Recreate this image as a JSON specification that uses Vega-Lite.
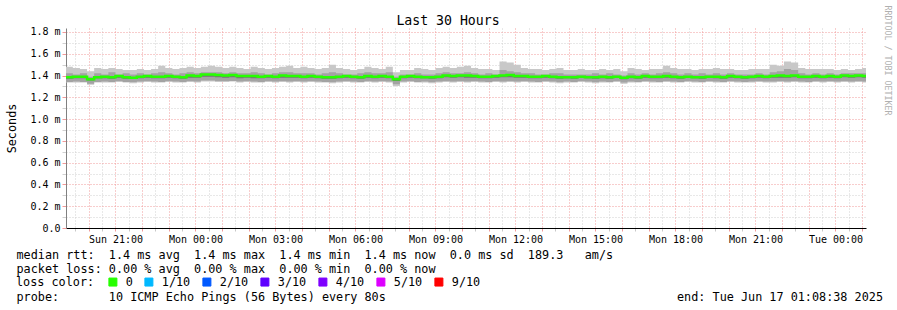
{
  "$schema": "https://vega.github.io/schema/vega-lite/v6.json",
  "width": 800,
  "height": 200,
  "autosize": "none",
  "padding": {"left": 66, "top": 28, "right": 31, "bottom": 82},
  "background": "#ffffff",
  "config": {"view": {"stroke": null}, "font": "DejaVu Sans Mono"},
  "data": {"values": [
    {"t":"2025-06-15T19:08:00Z","lo":1.335,"hi":1.48,"q1":1.34,"q3":1.42,"d":1.37,"med":1.385,"loss":"0"},
    {"t":"2025-06-15T19:24:00Z","lo":1.335,"hi":1.47,"q1":1.345,"q3":1.41,"d":1.375,"med":1.39,"loss":"0"},
    {"t":"2025-06-15T19:40:00Z","lo":1.335,"hi":1.46,"q1":1.34,"q3":1.42,"d":1.375,"med":1.39,"loss":"0"},
    {"t":"2025-06-15T19:56:00Z","lo":1.315,"hi":1.44,"q1":1.325,"q3":1.39,"d":1.355,"med":1.365,"loss":"0"},
    {"t":"2025-06-15T20:12:00Z","lo":1.335,"hi":1.47,"q1":1.34,"q3":1.42,"d":1.375,"med":1.385,"loss":"0"},
    {"t":"2025-06-15T20:28:00Z","lo":1.335,"hi":1.46,"q1":1.345,"q3":1.41,"d":1.375,"med":1.39,"loss":"0"},
    {"t":"2025-06-15T20:44:00Z","lo":1.335,"hi":1.47,"q1":1.34,"q3":1.43,"d":1.37,"med":1.385,"loss":"0"},
    {"t":"2025-06-15T21:00:00Z","lo":1.34,"hi":1.46,"q1":1.35,"q3":1.41,"d":1.38,"med":1.395,"loss":"0"},
    {"t":"2025-06-15T21:16:00Z","lo":1.335,"hi":1.45,"q1":1.34,"q3":1.42,"d":1.37,"med":1.385,"loss":"0"},
    {"t":"2025-06-15T21:32:00Z","lo":1.33,"hi":1.45,"q1":1.34,"q3":1.41,"d":1.37,"med":1.38,"loss":"0"},
    {"t":"2025-06-15T21:48:00Z","lo":1.335,"hi":1.46,"q1":1.345,"q3":1.42,"d":1.375,"med":1.39,"loss":"0"},
    {"t":"2025-06-15T22:04:00Z","lo":1.34,"hi":1.45,"q1":1.35,"q3":1.41,"d":1.38,"med":1.395,"loss":"0"},
    {"t":"2025-06-15T22:20:00Z","lo":1.335,"hi":1.46,"q1":1.345,"q3":1.42,"d":1.375,"med":1.39,"loss":"0"},
    {"t":"2025-06-15T22:36:00Z","lo":1.335,"hi":1.49,"q1":1.34,"q3":1.43,"d":1.375,"med":1.39,"loss":"0"},
    {"t":"2025-06-15T22:52:00Z","lo":1.34,"hi":1.47,"q1":1.35,"q3":1.42,"d":1.38,"med":1.395,"loss":"0"},
    {"t":"2025-06-15T23:08:00Z","lo":1.335,"hi":1.46,"q1":1.345,"q3":1.41,"d":1.375,"med":1.39,"loss":"0"},
    {"t":"2025-06-15T23:24:00Z","lo":1.335,"hi":1.47,"q1":1.34,"q3":1.42,"d":1.37,"med":1.385,"loss":"0"},
    {"t":"2025-06-15T23:40:00Z","lo":1.34,"hi":1.48,"q1":1.35,"q3":1.43,"d":1.38,"med":1.4,"loss":"0"},
    {"t":"2025-06-15T23:56:00Z","lo":1.335,"hi":1.47,"q1":1.345,"q3":1.42,"d":1.38,"med":1.395,"loss":"0"},
    {"t":"2025-06-16T00:12:00Z","lo":1.345,"hi":1.48,"q1":1.355,"q3":1.43,"d":1.39,"med":1.41,"loss":"0"},
    {"t":"2025-06-16T00:28:00Z","lo":1.345,"hi":1.49,"q1":1.355,"q3":1.43,"d":1.39,"med":1.41,"loss":"0"},
    {"t":"2025-06-16T00:44:00Z","lo":1.34,"hi":1.48,"q1":1.35,"q3":1.43,"d":1.385,"med":1.405,"loss":"0"},
    {"t":"2025-06-16T01:00:00Z","lo":1.34,"hi":1.47,"q1":1.35,"q3":1.42,"d":1.38,"med":1.4,"loss":"0"},
    {"t":"2025-06-16T01:16:00Z","lo":1.345,"hi":1.48,"q1":1.35,"q3":1.43,"d":1.385,"med":1.405,"loss":"0"},
    {"t":"2025-06-16T01:32:00Z","lo":1.335,"hi":1.47,"q1":1.345,"q3":1.42,"d":1.375,"med":1.395,"loss":"0"},
    {"t":"2025-06-16T01:48:00Z","lo":1.34,"hi":1.46,"q1":1.35,"q3":1.42,"d":1.38,"med":1.395,"loss":"0"},
    {"t":"2025-06-16T02:04:00Z","lo":1.335,"hi":1.48,"q1":1.345,"q3":1.43,"d":1.375,"med":1.395,"loss":"0"},
    {"t":"2025-06-16T02:20:00Z","lo":1.335,"hi":1.47,"q1":1.34,"q3":1.42,"d":1.375,"med":1.39,"loss":"0"},
    {"t":"2025-06-16T02:36:00Z","lo":1.34,"hi":1.46,"q1":1.35,"q3":1.41,"d":1.38,"med":1.395,"loss":"0"},
    {"t":"2025-06-16T02:52:00Z","lo":1.335,"hi":1.47,"q1":1.345,"q3":1.42,"d":1.375,"med":1.39,"loss":"0"},
    {"t":"2025-06-16T03:08:00Z","lo":1.34,"hi":1.48,"q1":1.35,"q3":1.43,"d":1.38,"med":1.4,"loss":"0"},
    {"t":"2025-06-16T03:24:00Z","lo":1.335,"hi":1.49,"q1":1.345,"q3":1.43,"d":1.38,"med":1.395,"loss":"0"},
    {"t":"2025-06-16T03:40:00Z","lo":1.34,"hi":1.47,"q1":1.35,"q3":1.42,"d":1.38,"med":1.395,"loss":"0"},
    {"t":"2025-06-16T03:56:00Z","lo":1.335,"hi":1.48,"q1":1.345,"q3":1.42,"d":1.375,"med":1.39,"loss":"0"},
    {"t":"2025-06-16T04:12:00Z","lo":1.34,"hi":1.47,"q1":1.35,"q3":1.42,"d":1.38,"med":1.395,"loss":"0"},
    {"t":"2025-06-16T04:28:00Z","lo":1.335,"hi":1.46,"q1":1.345,"q3":1.41,"d":1.375,"med":1.39,"loss":"0"},
    {"t":"2025-06-16T04:44:00Z","lo":1.335,"hi":1.47,"q1":1.34,"q3":1.42,"d":1.37,"med":1.385,"loss":"0"},
    {"t":"2025-06-16T05:00:00Z","lo":1.33,"hi":1.5,"q1":1.34,"q3":1.43,"d":1.37,"med":1.385,"loss":"0"},
    {"t":"2025-06-16T05:16:00Z","lo":1.335,"hi":1.47,"q1":1.345,"q3":1.42,"d":1.375,"med":1.39,"loss":"0"},
    {"t":"2025-06-16T05:32:00Z","lo":1.34,"hi":1.46,"q1":1.35,"q3":1.41,"d":1.38,"med":1.395,"loss":"0"},
    {"t":"2025-06-16T05:48:00Z","lo":1.335,"hi":1.45,"q1":1.345,"q3":1.41,"d":1.375,"med":1.39,"loss":"0"},
    {"t":"2025-06-16T06:04:00Z","lo":1.335,"hi":1.46,"q1":1.34,"q3":1.42,"d":1.37,"med":1.385,"loss":"0"},
    {"t":"2025-06-16T06:20:00Z","lo":1.34,"hi":1.48,"q1":1.35,"q3":1.43,"d":1.38,"med":1.395,"loss":"0"},
    {"t":"2025-06-16T06:36:00Z","lo":1.335,"hi":1.47,"q1":1.345,"q3":1.42,"d":1.375,"med":1.39,"loss":"0"},
    {"t":"2025-06-16T06:52:00Z","lo":1.34,"hi":1.46,"q1":1.35,"q3":1.42,"d":1.38,"med":1.395,"loss":"0"},
    {"t":"2025-06-16T07:08:00Z","lo":1.335,"hi":1.48,"q1":1.345,"q3":1.43,"d":1.375,"med":1.39,"loss":"0"},
    {"t":"2025-06-16T07:24:00Z","lo":1.305,"hi":1.43,"q1":1.32,"q3":1.39,"d":1.35,"med":1.365,"loss":"0"},
    {"t":"2025-06-16T07:40:00Z","lo":1.335,"hi":1.45,"q1":1.345,"q3":1.41,"d":1.375,"med":1.39,"loss":"0"},
    {"t":"2025-06-16T07:56:00Z","lo":1.34,"hi":1.45,"q1":1.35,"q3":1.41,"d":1.38,"med":1.395,"loss":"0"},
    {"t":"2025-06-16T08:12:00Z","lo":1.335,"hi":1.47,"q1":1.34,"q3":1.42,"d":1.375,"med":1.39,"loss":"0"},
    {"t":"2025-06-16T08:28:00Z","lo":1.335,"hi":1.46,"q1":1.345,"q3":1.41,"d":1.375,"med":1.385,"loss":"0"},
    {"t":"2025-06-16T08:44:00Z","lo":1.33,"hi":1.45,"q1":1.34,"q3":1.41,"d":1.37,"med":1.385,"loss":"0"},
    {"t":"2025-06-16T09:00:00Z","lo":1.335,"hi":1.47,"q1":1.345,"q3":1.42,"d":1.375,"med":1.39,"loss":"0"},
    {"t":"2025-06-16T09:16:00Z","lo":1.34,"hi":1.48,"q1":1.35,"q3":1.43,"d":1.385,"med":1.4,"loss":"0"},
    {"t":"2025-06-16T09:32:00Z","lo":1.335,"hi":1.47,"q1":1.345,"q3":1.42,"d":1.38,"med":1.395,"loss":"0"},
    {"t":"2025-06-16T09:48:00Z","lo":1.34,"hi":1.48,"q1":1.35,"q3":1.42,"d":1.385,"med":1.4,"loss":"0"},
    {"t":"2025-06-16T10:04:00Z","lo":1.335,"hi":1.49,"q1":1.345,"q3":1.43,"d":1.38,"med":1.4,"loss":"0"},
    {"t":"2025-06-16T10:20:00Z","lo":1.34,"hi":1.47,"q1":1.35,"q3":1.42,"d":1.38,"med":1.395,"loss":"0"},
    {"t":"2025-06-16T10:36:00Z","lo":1.335,"hi":1.46,"q1":1.345,"q3":1.41,"d":1.375,"med":1.39,"loss":"0"},
    {"t":"2025-06-16T10:52:00Z","lo":1.335,"hi":1.46,"q1":1.34,"q3":1.42,"d":1.375,"med":1.39,"loss":"0"},
    {"t":"2025-06-16T11:08:00Z","lo":1.34,"hi":1.45,"q1":1.35,"q3":1.41,"d":1.38,"med":1.395,"loss":"0"},
    {"t":"2025-06-16T11:24:00Z","lo":1.335,"hi":1.53,"q1":1.345,"q3":1.45,"d":1.385,"med":1.4,"loss":"0"},
    {"t":"2025-06-16T11:40:00Z","lo":1.34,"hi":1.52,"q1":1.35,"q3":1.44,"d":1.385,"med":1.405,"loss":"0"},
    {"t":"2025-06-16T11:56:00Z","lo":1.335,"hi":1.5,"q1":1.345,"q3":1.43,"d":1.38,"med":1.395,"loss":"0"},
    {"t":"2025-06-16T12:12:00Z","lo":1.34,"hi":1.47,"q1":1.35,"q3":1.42,"d":1.38,"med":1.395,"loss":"0"},
    {"t":"2025-06-16T12:28:00Z","lo":1.335,"hi":1.46,"q1":1.345,"q3":1.42,"d":1.375,"med":1.39,"loss":"0"},
    {"t":"2025-06-16T12:44:00Z","lo":1.335,"hi":1.46,"q1":1.34,"q3":1.41,"d":1.375,"med":1.39,"loss":"0"},
    {"t":"2025-06-16T13:00:00Z","lo":1.34,"hi":1.45,"q1":1.35,"q3":1.41,"d":1.38,"med":1.395,"loss":"0"},
    {"t":"2025-06-16T13:16:00Z","lo":1.335,"hi":1.46,"q1":1.345,"q3":1.42,"d":1.375,"med":1.39,"loss":"0"},
    {"t":"2025-06-16T13:32:00Z","lo":1.33,"hi":1.47,"q1":1.34,"q3":1.42,"d":1.37,"med":1.385,"loss":"0"},
    {"t":"2025-06-16T13:48:00Z","lo":1.335,"hi":1.45,"q1":1.345,"q3":1.41,"d":1.375,"med":1.385,"loss":"0"},
    {"t":"2025-06-16T14:04:00Z","lo":1.335,"hi":1.45,"q1":1.34,"q3":1.41,"d":1.37,"med":1.385,"loss":"0"},
    {"t":"2025-06-16T14:20:00Z","lo":1.34,"hi":1.46,"q1":1.35,"q3":1.41,"d":1.38,"med":1.39,"loss":"0"},
    {"t":"2025-06-16T14:36:00Z","lo":1.335,"hi":1.45,"q1":1.345,"q3":1.41,"d":1.375,"med":1.385,"loss":"0"},
    {"t":"2025-06-16T14:52:00Z","lo":1.33,"hi":1.45,"q1":1.34,"q3":1.42,"d":1.37,"med":1.385,"loss":"0"},
    {"t":"2025-06-16T15:08:00Z","lo":1.335,"hi":1.46,"q1":1.345,"q3":1.41,"d":1.375,"med":1.39,"loss":"0"},
    {"t":"2025-06-16T15:24:00Z","lo":1.335,"hi":1.45,"q1":1.34,"q3":1.42,"d":1.37,"med":1.385,"loss":"0"},
    {"t":"2025-06-16T15:40:00Z","lo":1.34,"hi":1.46,"q1":1.35,"q3":1.41,"d":1.38,"med":1.39,"loss":"0"},
    {"t":"2025-06-16T15:56:00Z","lo":1.325,"hi":1.44,"q1":1.335,"q3":1.4,"d":1.365,"med":1.38,"loss":"0"},
    {"t":"2025-06-16T16:12:00Z","lo":1.335,"hi":1.47,"q1":1.345,"q3":1.42,"d":1.375,"med":1.39,"loss":"0"},
    {"t":"2025-06-16T16:28:00Z","lo":1.335,"hi":1.46,"q1":1.34,"q3":1.41,"d":1.37,"med":1.385,"loss":"0"},
    {"t":"2025-06-16T16:44:00Z","lo":1.34,"hi":1.45,"q1":1.35,"q3":1.42,"d":1.38,"med":1.395,"loss":"0"},
    {"t":"2025-06-16T17:00:00Z","lo":1.335,"hi":1.46,"q1":1.345,"q3":1.41,"d":1.375,"med":1.39,"loss":"0"},
    {"t":"2025-06-16T17:16:00Z","lo":1.335,"hi":1.46,"q1":1.34,"q3":1.42,"d":1.375,"med":1.39,"loss":"0"},
    {"t":"2025-06-16T17:32:00Z","lo":1.34,"hi":1.49,"q1":1.35,"q3":1.43,"d":1.38,"med":1.395,"loss":"0"},
    {"t":"2025-06-16T17:48:00Z","lo":1.335,"hi":1.47,"q1":1.345,"q3":1.42,"d":1.375,"med":1.39,"loss":"0"},
    {"t":"2025-06-16T18:04:00Z","lo":1.335,"hi":1.46,"q1":1.34,"q3":1.41,"d":1.37,"med":1.385,"loss":"0"},
    {"t":"2025-06-16T18:20:00Z","lo":1.34,"hi":1.46,"q1":1.35,"q3":1.42,"d":1.38,"med":1.39,"loss":"0"},
    {"t":"2025-06-16T18:36:00Z","lo":1.335,"hi":1.45,"q1":1.345,"q3":1.41,"d":1.375,"med":1.385,"loss":"0"},
    {"t":"2025-06-16T18:52:00Z","lo":1.335,"hi":1.46,"q1":1.34,"q3":1.42,"d":1.37,"med":1.385,"loss":"0"},
    {"t":"2025-06-16T19:08:00Z","lo":1.34,"hi":1.46,"q1":1.35,"q3":1.41,"d":1.38,"med":1.39,"loss":"0"},
    {"t":"2025-06-16T19:24:00Z","lo":1.335,"hi":1.47,"q1":1.345,"q3":1.42,"d":1.375,"med":1.39,"loss":"0"},
    {"t":"2025-06-16T19:40:00Z","lo":1.335,"hi":1.46,"q1":1.34,"q3":1.41,"d":1.37,"med":1.385,"loss":"0"},
    {"t":"2025-06-16T19:56:00Z","lo":1.34,"hi":1.46,"q1":1.35,"q3":1.42,"d":1.38,"med":1.395,"loss":"0"},
    {"t":"2025-06-16T20:12:00Z","lo":1.335,"hi":1.45,"q1":1.345,"q3":1.41,"d":1.375,"med":1.39,"loss":"0"},
    {"t":"2025-06-16T20:28:00Z","lo":1.335,"hi":1.45,"q1":1.34,"q3":1.41,"d":1.37,"med":1.385,"loss":"0"},
    {"t":"2025-06-16T20:44:00Z","lo":1.335,"hi":1.46,"q1":1.345,"q3":1.41,"d":1.375,"med":1.39,"loss":"0"},
    {"t":"2025-06-16T21:00:00Z","lo":1.34,"hi":1.46,"q1":1.35,"q3":1.42,"d":1.38,"med":1.395,"loss":"0"},
    {"t":"2025-06-16T21:16:00Z","lo":1.335,"hi":1.46,"q1":1.345,"q3":1.41,"d":1.375,"med":1.39,"loss":"0"},
    {"t":"2025-06-16T21:32:00Z","lo":1.335,"hi":1.5,"q1":1.345,"q3":1.43,"d":1.38,"med":1.395,"loss":"0"},
    {"t":"2025-06-16T21:48:00Z","lo":1.34,"hi":1.49,"q1":1.35,"q3":1.44,"d":1.38,"med":1.4,"loss":"0"},
    {"t":"2025-06-16T22:04:00Z","lo":1.335,"hi":1.53,"q1":1.345,"q3":1.46,"d":1.38,"med":1.395,"loss":"0"},
    {"t":"2025-06-16T22:20:00Z","lo":1.34,"hi":1.52,"q1":1.35,"q3":1.45,"d":1.385,"med":1.4,"loss":"0"},
    {"t":"2025-06-16T22:36:00Z","lo":1.335,"hi":1.47,"q1":1.345,"q3":1.42,"d":1.375,"med":1.39,"loss":"0"},
    {"t":"2025-06-16T22:52:00Z","lo":1.335,"hi":1.46,"q1":1.34,"q3":1.41,"d":1.375,"med":1.39,"loss":"0"},
    {"t":"2025-06-16T23:08:00Z","lo":1.34,"hi":1.46,"q1":1.35,"q3":1.42,"d":1.38,"med":1.395,"loss":"0"},
    {"t":"2025-06-16T23:24:00Z","lo":1.335,"hi":1.46,"q1":1.345,"q3":1.41,"d":1.375,"med":1.39,"loss":"0"},
    {"t":"2025-06-16T23:40:00Z","lo":1.34,"hi":1.46,"q1":1.35,"q3":1.42,"d":1.38,"med":1.395,"loss":"0"},
    {"t":"2025-06-16T23:56:00Z","lo":1.335,"hi":1.45,"q1":1.345,"q3":1.41,"d":1.375,"med":1.39,"loss":"0"},
    {"t":"2025-06-17T00:12:00Z","lo":1.34,"hi":1.46,"q1":1.35,"q3":1.42,"d":1.385,"med":1.4,"loss":"0"},
    {"t":"2025-06-17T00:28:00Z","lo":1.335,"hi":1.45,"q1":1.345,"q3":1.42,"d":1.38,"med":1.395,"loss":"0"},
    {"t":"2025-06-17T00:44:00Z","lo":1.34,"hi":1.46,"q1":1.35,"q3":1.42,"d":1.385,"med":1.4,"loss":"0"},
    {"t":"2025-06-17T01:00:00Z","lo":1.335,"hi":1.47,"q1":1.345,"q3":1.42,"d":1.38,"med":1.395,"loss":"0"},
    {"t":"2025-06-17T01:16:00Z","lo":1.335,"hi":1.47,"q1":1.345,"q3":1.42,"d":1.38,"med":1.395,"loss":"0"}
  ]},
  "layer": [
    {
      "mark": {"type": "area", "interpolate": "step-after", "color": "#c8c8c8", "clip": true},
      "encoding": {
        "x": {
          "field": "t", "type": "temporal",
          "scale": {"type": "utc", "domain": [
            {"year": 2025, "month": 6, "date": 15, "hours": 19, "minutes": 8, "seconds": 38, "utc": true},
            {"year": 2025, "month": 6, "date": 17, "hours": 1, "minutes": 8, "seconds": 38, "utc": true}
          ]},
          "axis": {
            "orient": "bottom",
            "tickCount": 60,
            "labelExpr": "utchours(datum.value) % 3 == 0 && utcminutes(datum.value) == 0 ? utcFormat(datum.value, '%a %H:%M') : ''",
            "labelOverlap": false, "labelFlush": false, "labelBound": false,
            "labelFont": "DejaVu Sans Mono", "labelFontSize": 10, "labelColor": "#000000", "labelPadding": 3, "labelAngle": 0,
            "grid": true,
            "gridColor": {"condition": {"test": "utcminutes(datum.value) == 0", "value": "#f19a9a"}, "value": "#d0d0d0"},
            "gridDash": [1, 2], "gridWidth": 1,
            "ticks": true, "tickSize": 3,
            "tickColor": {"condition": {"test": "utcminutes(datum.value) == 0", "value": "#f19a9a"}, "value": "#c8c8c8"},
            "domainColor": "#000000", "domainWidth": 1,
            "title": [
              "median\u00a0rtt:\u00a0\u00a01.4\u00a0ms\u00a0avg\u00a0\u00a01.4\u00a0ms\u00a0max\u00a0\u00a01.4\u00a0ms\u00a0min\u00a0\u00a01.4\u00a0ms\u00a0now\u00a0\u00a00.0\u00a0ms\u00a0sd\u00a0\u00a0189.3\u00a0\u00a0\u00a0am/s",
              "packet\u00a0loss:\u00a00.00\u00a0%\u00a0avg\u00a0\u00a00.00\u00a0%\u00a0max\u00a0\u00a00.00\u00a0%\u00a0min\u00a0\u00a00.00\u00a0%\u00a0now"
            ],
            "titleFont": "DejaVu Sans Mono", "titleFontSize": 11.8, "titleFontWeight": "normal", "titleColor": "#000000",
            "titleAnchor": "start", "titleAlign": "left", "titleBaseline": "alphabetic",
            "titleX": -50, "titleY": 30, "titleLineHeight": 14
          }
        },
        "y": {
          "field": "lo", "type": "quantitative",
          "scale": {"domain": [0, 1.8365], "nice": false, "zero": false},
          "axis": {
            "orient": "left",
            "values": [0, 0.1, 0.2, 0.3, 0.4, 0.5, 0.6, 0.7, 0.8, 0.9, 1.0, 1.1, 1.2, 1.3, 1.4, 1.5, 1.6, 1.7, 1.8],
            "labelExpr": "round(datum.value * 10) % 2 == 0 ? (datum.value == 0 ? '0.0' : format(datum.value, '.1f') + ' m') : ''",
            "labelOverlap": false, "labelFlush": false,
            "labelFont": "DejaVu Sans Mono", "labelFontSize": 10, "labelColor": "#000000", "labelPadding": 2,
            "grid": true,
            "gridColor": {"condition": {"test": "round(datum.value * 10) % 2 == 0", "value": "#f19a9a"}, "value": "#d0d0d0"},
            "gridDash": [1, 2], "gridWidth": 1,
            "ticks": true, "tickSize": 4,
            "tickColor": {"condition": {"test": "round(datum.value * 10) % 2 == 0", "value": "#f19a9a"}, "value": "#d0d0d0"},
            "domainColor": "#808080", "domainWidth": 1,
            "title": "Seconds",
            "titleFont": "DejaVu Sans Mono", "titleFontSize": 11.8, "titleFontWeight": "normal", "titleColor": "#000000",
            "titleAngle": 270, "titleAlign": "center", "titleBaseline": "middle",
            "titleX": -55, "titleY": 100
          }
        },
        "y2": {"field": "hi"}
      }
    },
    {
      "mark": {"type": "area", "interpolate": "step-after", "color": "#a3a3a3", "clip": true},
      "encoding": {
        "x": {
          "field": "t", "type": "temporal",
          "axis": {
            "orient": "bottom", "domain": false, "ticks": false, "labels": false, "grid": false,
            "title": "probe:\u00a0\u00a0\u00a0\u00a0\u00a0\u00a0\u00a010\u00a0ICMP\u00a0Echo\u00a0Pings\u00a0(56\u00a0Bytes)\u00a0every\u00a080s\u00a0\u00a0\u00a0\u00a0\u00a0\u00a0\u00a0\u00a0\u00a0\u00a0\u00a0\u00a0\u00a0\u00a0\u00a0\u00a0\u00a0\u00a0\u00a0\u00a0\u00a0\u00a0\u00a0\u00a0\u00a0\u00a0\u00a0\u00a0\u00a0\u00a0\u00a0\u00a0\u00a0\u00a0\u00a0\u00a0\u00a0\u00a0\u00a0\u00a0\u00a0end:\u00a0Tue\u00a0Jun\u00a017\u00a001:08:38\u00a02025",
            "titleFont": "DejaVu Sans Mono", "titleFontSize": 11.8, "titleFontWeight": "normal", "titleColor": "#000000",
            "titleAnchor": "start", "titleAlign": "left", "titleBaseline": "alphabetic",
            "titleX": -50, "titleY": 72
          }
        },
        "y": {"field": "q1", "type": "quantitative", "axis": null},
        "y2": {"field": "q3"}
      }
    },
    {
      "mark": {"type": "area", "interpolate": "step-after", "color": "#747474", "clip": true},
      "encoding": {
        "x": {"field": "t", "type": "temporal", "axis": null},
        "y": {"field": "d", "type": "quantitative", "axis": null},
        "y2": {"field": "med"}
      }
    },
    {
      "mark": {"type": "line", "interpolate": "step-after", "strokeWidth": 2.5, "clip": true},
      "encoding": {
        "x": {
          "field": "t", "type": "temporal",
          "axis": {
            "orient": "top", "domain": false, "ticks": false, "labels": false, "grid": false,
            "title": "Last 30 Hours",
            "titleFont": "DejaVu Sans Mono", "titleFontSize": 13.2, "titleFontWeight": "normal", "titleColor": "#000000",
            "titleAlign": "center", "titleBaseline": "alphabetic", "titleX": 381.5, "titleY": -4
          }
        },
        "y": {
          "field": "med", "type": "quantitative",
          "axis": {
            "orient": "right", "domain": false, "ticks": false, "labels": false, "grid": false,
            "title": "RRDTOOL / TOBI OETIKER",
            "titleFont": "DejaVu Sans Mono", "titleFontSize": 8.3, "titleFontWeight": "normal", "titleColor": "#b0b0b0",
            "titleAngle": 90, "titleAlign": "center", "titleBaseline": "middle", "titleX": 20.7, "titleY": 32
          }
        },
        "color": {
          "field": "loss", "type": "nominal",
          "scale": {
            "domain": ["0", "1/10", "2/10", "3/10", "4/10", "5/10", "9/10"],
            "range": ["#26ff00", "#00b8ff", "#0059ff", "#5e00ff", "#7e00ff", "#dd00ff", "#ff0000"]
          },
          "legend": {
            "orient": "none", "legendX": -50, "legendY": 248, "direction": "horizontal",
            "title": "loss color:", "titleOrient": "left",
            "titleFont": "DejaVu Sans Mono", "titleFontSize": 11.8, "titleFontWeight": "normal", "titleColor": "#000000", "titlePadding": 12,
            "labelFont": "DejaVu Sans Mono", "labelFontSize": 11.8, "labelColor": "#000000", "labelOffset": 7,
            "columnPadding": 9, "symbolType": "square", "symbolSize": 64, "padding": 0,
            "symbolStrokeColor": "#000000", "symbolStrokeWidth": 1,
            "encode": {"symbols": {"update": {"fill": {"scale": "color", "field": "value"}}}}
          }
        }
      }
    }
  ],
  "resolve": {"axis": {"x": "independent", "y": "independent"}}
}
